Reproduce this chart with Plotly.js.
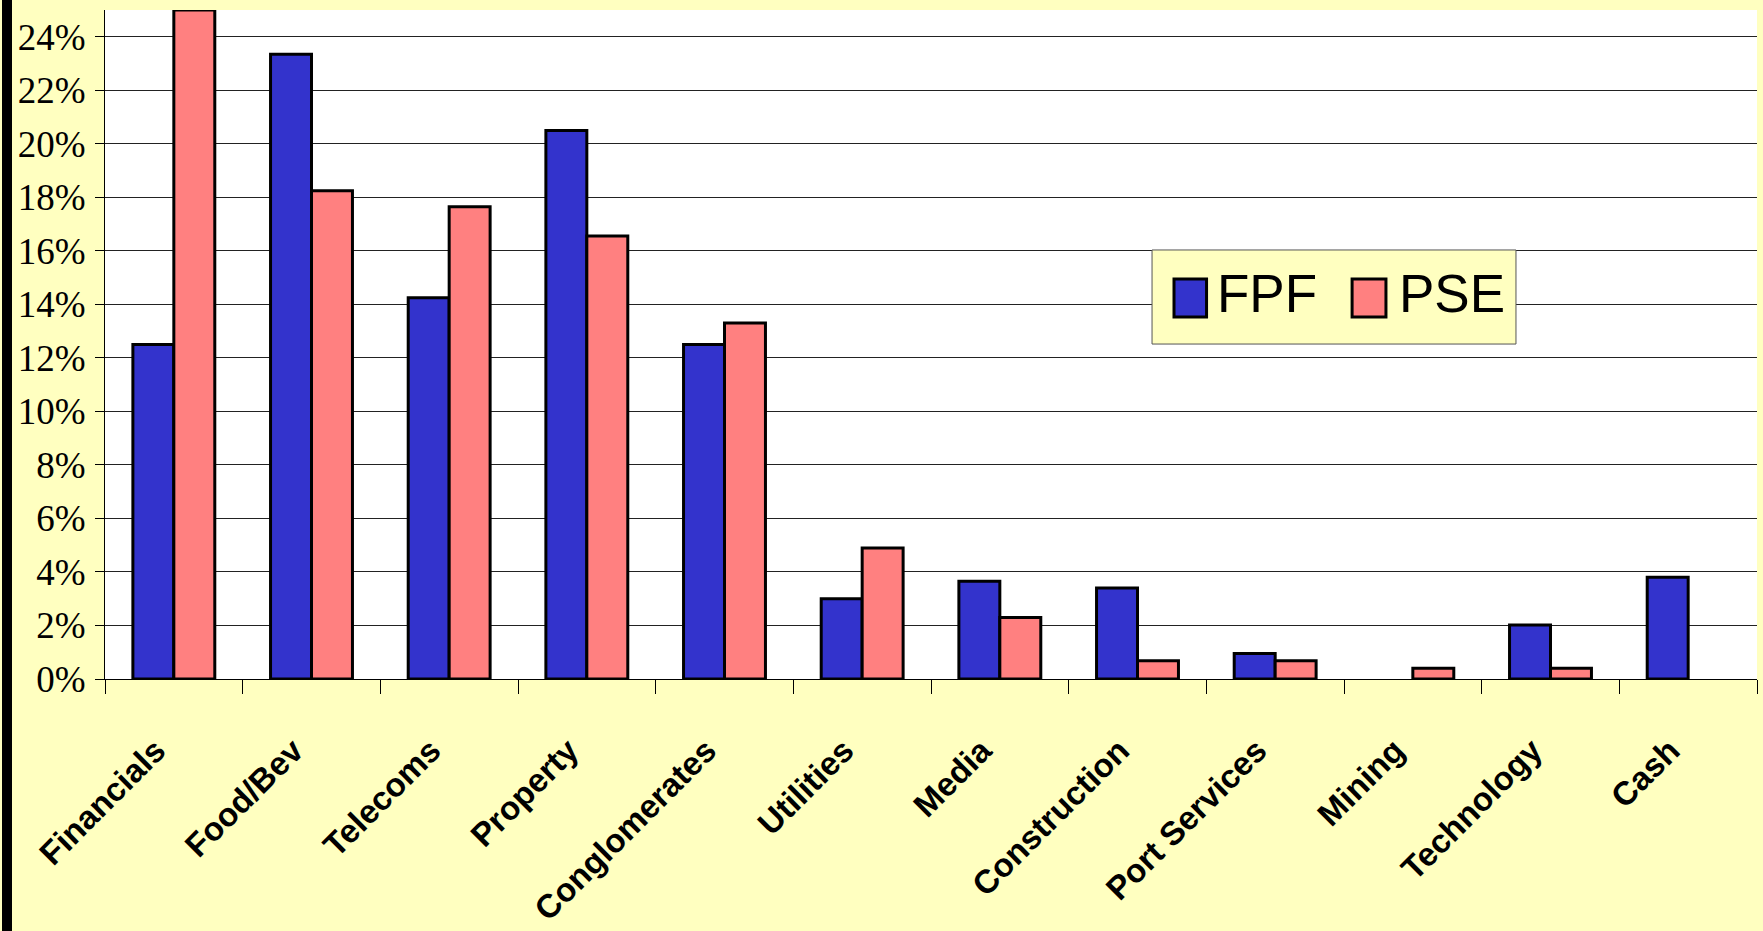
<!DOCTYPE html>
<html>
<head>
<meta charset="utf-8">
<script src="https://cdn.plot.ly/plotly-3.0.1.min.js"></script>
<style>
  html, body { margin: 0; padding: 0; background: #FFFFC0; overflow: hidden; }
  #wrap { position: relative; width: 1763px; height: 931px; }
  #chart { position: absolute; left: 0; top: 0; width: 1763px; height: 931px; }
  #edge { position: absolute; left: 2px; top: 0; width: 10px; height: 931px; background: #000; }
</style>
</head>
<body>
<div id="wrap">
  <div id="chart"></div>
  <div id="edge"></div>
</div>
<script>
// ---- data (percent of portfolio) ----
const categories = ["Financials", "Food/Bev", "Telecoms", "Property", "Conglomerates", "Utilities",
                    "Media", "Construction", "Port Services", "Mining", "Technology", "Cash"];
const fpfValues = [12.5, 23.35, 14.25, 20.5, 12.5, 3.0, 3.65, 3.4, 0.95, null, 2.02, 3.8];
const pseValues = [25.0, 18.25, 17.65, 16.55, 13.3, 4.9, 2.3, 0.68, 0.68, 0.4, 0.4, null];
const seriesNames = ["FPF", "PSE"];
const yTickValues = [0, 2, 4, 6, 8, 10, 12, 14, 16, 18, 20, 22, 24];

const blue = "#3333CC";
const pink = "#FF8080";
const yellow = "#FFFFC0";
const colors = [blue, pink];

const barLine = { color: "#000000", width: 3 };

const traces = [
  { type: "bar", name: seriesNames[0], x: categories, y: fpfValues,
    marker: { color: colors[0], line: barLine }, hoverinfo: "x+y" },
  { type: "bar", name: seriesNames[1], x: categories, y: pseValues,
    marker: { color: colors[1], line: barLine }, hoverinfo: "x+y" }
];

// ---- legend drawn as a boxed key (paper coordinates) ----
const legendBox = { x0: 0.6338, x1: 0.8541, y0: 0.5007, y1: 0.6413 };
const swatchX = [[0.6471, 0.6668], [0.7549, 0.7754]];
const swatchY = [0.5411, 0.5979];
const labelX = [0.6722, 0.7818];
const labelY = 0.5755;

const shapes = [
  { type: "rect", xref: "paper", yref: "paper", layer: "above",
    x0: legendBox.x0, x1: legendBox.x1, y0: legendBox.y0, y1: legendBox.y1,
    fillcolor: yellow, line: { color: "#555555", width: 1 } }
];
const annotations = [];
seriesNames.forEach(function (name, i) {
  shapes.push({ type: "rect", xref: "paper", yref: "paper", layer: "above",
    x0: swatchX[i][0], x1: swatchX[i][1], y0: swatchY[0], y1: swatchY[1],
    fillcolor: colors[i], line: { color: "#000", width: 3 } });
  annotations.push({ xref: "paper", yref: "paper", x: labelX[i], y: labelY,
    xanchor: "left", yanchor: "middle", showarrow: false, text: name,
    font: { family: "Liberation Sans, Arial, sans-serif", size: 53, color: "#000" } });
});

const layout = {
  width: 1763, height: 931,
  margin: { l: 105, r: 6, t: 10, b: 252, pad: 0 },
  paper_bgcolor: yellow,
  plot_bgcolor: "#FFFFFF",
  barmode: "group",
  bargap: 0.405,
  bargroupgap: 0,
  showlegend: false,
  shapes: shapes,
  annotations: annotations,
  xaxis: {
    type: "category",
    tickson: "boundaries",
    ticks: "outside", ticklen: 14, tickwidth: 1, tickcolor: "#000",
    showline: true, linecolor: "#000", linewidth: 1,
    showgrid: false, zeroline: false,
    tickangle: -45,
    ticklabelstandoff: 38,
    ticklabelshift: -18,
    tickfont: { family: "Liberation Sans, Arial, sans-serif", size: 33, color: "#000", weight: 700 },
    automargin: false
  },
  yaxis: {
    range: [0, 25],
    tickvals: yTickValues,
    ticktext: yTickValues.map(v => v + "%"),
    ticks: "outside", ticklen: 9, tickwidth: 1, tickcolor: "#000",
    showline: true, linecolor: "#000", linewidth: 1,
    showgrid: true, gridcolor: "#222222", gridwidth: 1,
    zeroline: false,
    tickfont: { family: "Liberation Serif, Times New Roman, serif", size: 37, color: "#000" },
    ticklabelstandoff: 2,
    automargin: false
  }
};

Plotly.newPlot("chart", traces, layout, { displayModeBar: false, staticPlot: true });
</script>
</body>
</html>
